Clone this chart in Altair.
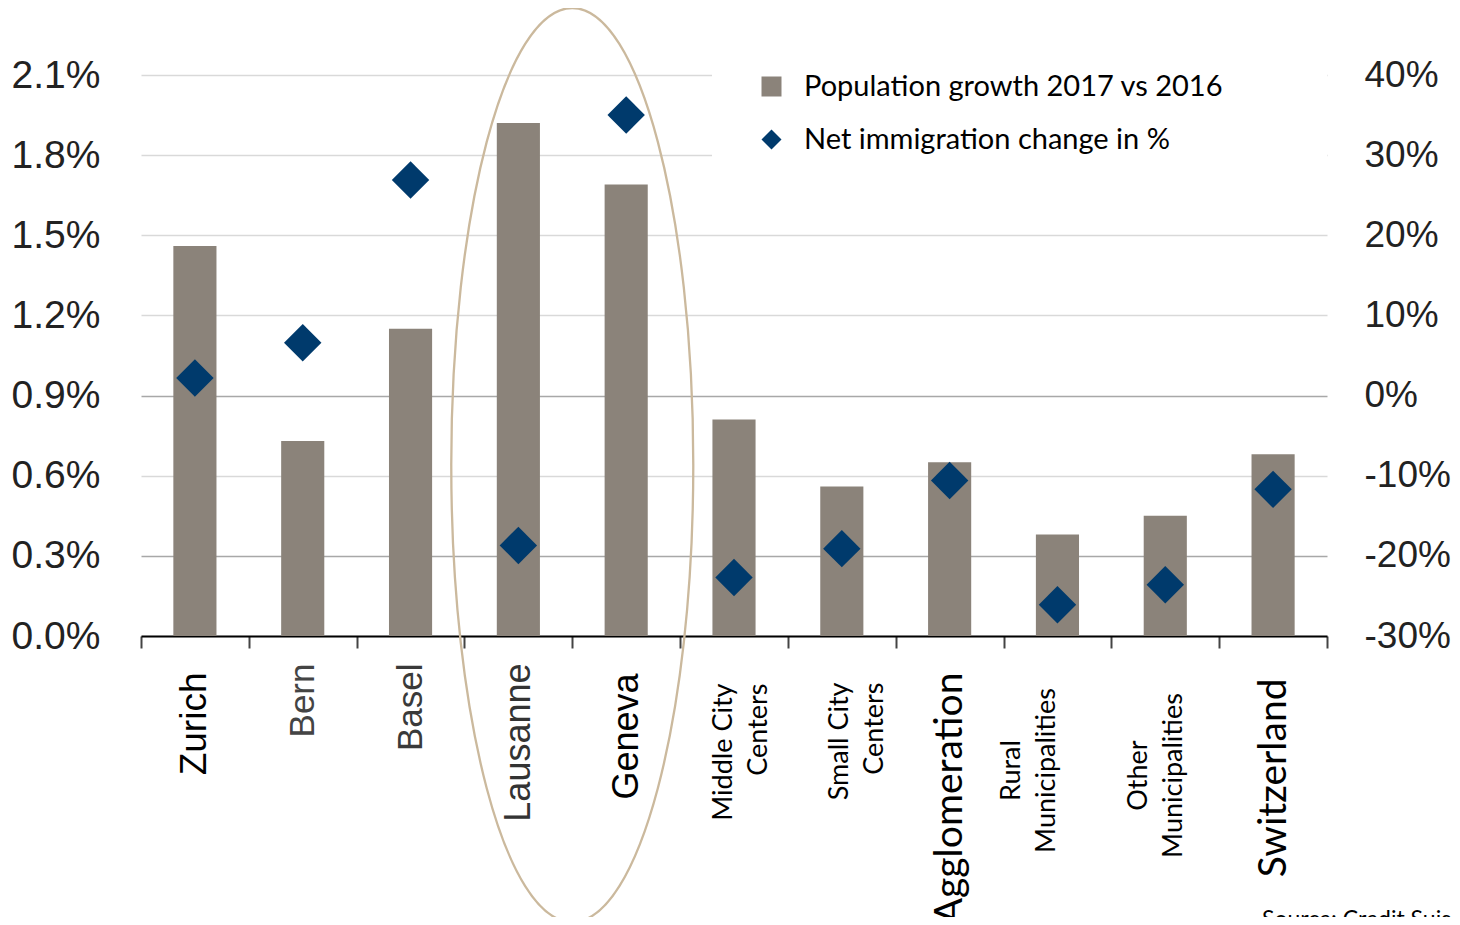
import json
import altair as alt
import pandas as pd

# ---------------- data ----------------
categories = ["Zurich", "Bern", "Basel", "Lausanne", "Geneva",
              "Middle City|Centers", "Small City|Centers", "Agglomeration",
              "Rural|Municipalities", "Other|Municipalities", "Switzerland"]
pop_growth = [1.46, 0.73, 1.15, 1.92, 1.69, 0.81, 0.56, 0.65, 0.38, 0.45, 0.68]
net_immigration = [2.2, 6.6, 26.9, -18.7, 35.0, -22.7, -19.1, -10.6, -26.1, -23.6, -11.7]
series_names = ["Population growth 2017 vs 2016", "Net immigration change in %"]
left_ticks = [0.0, 0.3, 0.6, 0.9, 1.2, 1.5, 1.8, 2.1]
right_ticks = [-30, -20, -10, 0, 10, 20, 30, 40]
encircled = ["Lausanne", "Geneva"]
source_text = ["Source: Credit Suisse"]

bar_df = pd.DataFrame({"label": categories, "value": pop_growth,
                       "series": [series_names[0]] * len(categories)})
pt_df = pd.DataFrame({"label": categories, "value": net_immigration,
                      "series": [series_names[1]] * len(categories)})
ell_df = pd.DataFrame({"label": [encircled[0]]})
src_df = pd.DataFrame({"text": source_text})

# ---------------- styles ----------------
HELV = "Liberation Sans"
CAL = "Lato"
BAR_COLOR = "#8b837a"
DIAMOND_COLOR = "#003a6c"
ELLIPSE_COLOR = "#cbb99d"

lab_font = {"Zurich": HELV, "Bern": HELV, "Basel": HELV, "Lausanne": HELV, "Geneva": HELV}
lab_size = {"Zurich": 37, "Bern": 35, "Basel": 35, "Lausanne": 36, "Geneva": 36,
            "Agglomeration": 39, "Switzerland": 39}
lab_color = {"Bern": "#444444", "Basel": "#3a3a3a", "Lausanne": "#333333"}
lab_align = {"Rural|Municipalities": "center", "Other|Municipalities": "center"}
TICK = 12
lab_pad = {"Zurich": 36, "Bern": 27, "Basel": 27, "Lausanne": 27, "Geneva": 37,
           "Middle City|Centers": 47, "Small City|Centers": 46, "Agglomeration": 36,
           "Rural|Municipalities": 134, "Other|Municipalities": 139, "Switzerland": 42}
lab_offset = {"Middle City|Centers": -11, "Small City|Centers": -2,
              "Rural|Municipalities": -46, "Other|Municipalities": -27}


def cond(mapping, default):
    conds = [{"test": "datum.value === " + json.dumps(k), "value": v}
             for k, v in mapping.items() if v != default]
    if not conds:
        return default
    return {"condition": conds, "value": default}


x_axis = alt.Axis(
    title=None, labelAngle=270, grid=False,
    labelExpr="split(datum.label, '|')",
    labelFont=cond(lab_font, CAL),
    labelFontSize=cond(lab_size, 27),
    labelColor=cond(lab_color, "#000000"),
    labelAlign=cond(lab_align, "right"),
    labelBaseline="middle",
    labelPadding=cond({k: v - TICK for k, v in lab_pad.items()}, 30),
    labelOffset=cond(lab_offset, 0),
    labelLineHeight=35,
    labelLimit=600, labelOverlap=False, labelBound=False,
    domainColor="#000000", domainWidth=2.2,
    tickColor="#444444", tickWidth=2, tickSize=TICK, tickBand="extent",
)

x_enc = alt.X("label:N", sort=categories,
              scale=alt.Scale(paddingInner=0, paddingOuter=0), axis=x_axis)

left_axis = alt.Axis(
    title=None, values=left_ticks, labelExpr="format(datum.value, '.1f') + '%'",
    labelFont=HELV, labelFontSize=39, labelColor="#222222", labelPadding=41,
    ticks=False, tickSize=0, domain=False, grid=True,
    gridColor={"condition": {"test": "datum.value == 0.3 || datum.value == 0.9", "value": "#a8a8a8"},
               "value": "#d9d9d9"},
    gridWidth=1.4,
)
right_axis = alt.Axis(
    title=None, values=right_ticks, orient="right", labelExpr="datum.value + '%'",
    labelFont=HELV, labelFontSize=37, labelColor="#222222", labelPadding=37,
    labelAlign="left", ticks=False, tickSize=0, domain=False, grid=False,
)

color_scale = alt.Scale(domain=series_names, range=[BAR_COLOR, DIAMOND_COLOR])
shape_scale = alt.Scale(domain=series_names, range=["square", "diamond"])
# trailing blank (nbsp + braille blank, not trimmed) widens the white legend box
tail = "\u00a0" * 5 + "\u2800"
legend = alt.Legend(
    title=None, orient="none", legendX=571, legendY=-48, fillColor="white",
    padding=45, labelFont=CAL, labelFontSize=29, labelColor="#000000",
    symbolSize=400, symbolStrokeWidth=0, labelOffset=18, rowPadding=23,
    labelLimit=800, labelExpr="datum.label + '" + tail + "'",
)

k = 0.5523
a = 121 / 457
ka = k * a
ellipse_path = (f"M 0 -1 C {ka:.4f} -1 {a:.4f} -{k} {a:.4f} 0 "
                f"C {a:.4f} {k} {ka:.4f} 1 0 1 "
                f"C -{ka:.4f} 1 -{a:.4f} {k} -{a:.4f} 0 "
                f"C -{a:.4f} -{k} -{ka:.4f} -1 0 -1 Z")

ellipse = alt.Chart(ell_df).mark_point(
    shape=ellipse_path, size=914 ** 2, filled=False, stroke=ELLIPSE_COLOR,
    strokeWidth=2.3, opacity=1,
).encode(x=alt.X("label:N", sort=categories, bandPosition=1), y=alt.Y(datum=0.64))

bars = alt.Chart(bar_df).mark_bar(width=alt.RelativeBandSize(0.4)).encode(
    x=x_enc,
    y=alt.Y("value:Q", scale=alt.Scale(domain=[0, 2.1], nice=False, zero=True), axis=left_axis),
    color=alt.Color("series:N", scale=color_scale, legend=legend),
)

points = alt.Chart(pt_df).mark_point(filled=True, size=1400, opacity=1, strokeWidth=0).encode(
    x=alt.X("label:N", sort=categories),
    y=alt.Y("value:Q", scale=alt.Scale(domain=[-30, 40], nice=False, zero=False), axis=right_axis),
    color=alt.Color("series:N", scale=color_scale, legend=legend),
    shape=alt.Shape("series:N", scale=shape_scale, legend=legend),
)

source = alt.Chart(src_df).mark_text(
    align="left", baseline="top", font=CAL, fontSize=23, color="#000000",
).encode(text="text:N", x=alt.value(1121), y=alt.value(834))

chart = alt.layer(
    alt.layer(ellipse, bars),
    points,
    source,
).resolve_scale(y="independent").properties(
    width=1186, height=561,
    autosize=alt.AutoSizeParams(type="none"),
    padding={"left": 133, "top": 67, "right": 125, "bottom": 281},
).configure_view(stroke=None)

chart.save("out.html", embed_options={"renderer": "svg", "actions": False})
